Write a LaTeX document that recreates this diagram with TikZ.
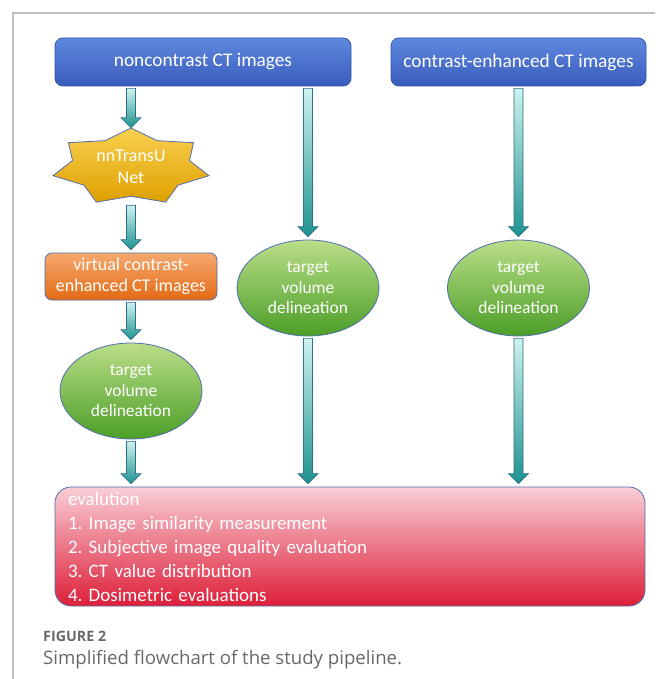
\documentclass[tikz,border=0pt]{standalone}
\usepackage{fontspec}
\setmainfont{Carlito}
\newfontfamily\capfont{Open Sans}
\usepackage{xcolor}
\usetikzlibrary{shapes.geometric,calc}

\definecolor{bluetop}{RGB}{96,136,222}
\definecolor{bluebot}{RGB}{56,92,188}
\definecolor{blueedge}{RGB}{52,86,170}
\definecolor{shapeedge}{RGB}{80,110,175}
\definecolor{goldtop}{RGB}{249,208,80}
\definecolor{goldbot}{RGB}{222,160,0}
\definecolor{orangetop}{RGB}{246,168,110}
\definecolor{orangebot}{RGB}{226,106,20}
\definecolor{greentop}{RGB}{186,222,136}
\definecolor{greenbot}{RGB}{76,158,40}
\definecolor{redtop}{RGB}{249,206,214}
\definecolor{redbot}{RGB}{221,30,56}
\definecolor{arrtop}{RGB}{205,242,238}
\definecolor{arrmid}{RGB}{48,186,172}
\definecolor{arrbot}{RGB}{30,146,142}
\definecolor{arredge}{RGB}{44,110,140}
\definecolor{framegray}{RGB}{190,190,190}
\definecolor{capgray}{RGB}{104,104,108}

\begin{document}
\frenchspacing
\begin{tikzpicture}[x=1pt, y=1pt,
    inputbox/.style={rectangle, rounded corners=8pt, draw=blueedge, line width=0.8pt,
      top color=bluetop, bottom color=bluebot, text=white, inner sep=0pt,
      minimum height=48pt, font=\fontsize{19.3}{22}\selectfont},
    vcebox/.style={rectangle, rounded corners=7pt, draw=shapeedge, line width=0.8pt,
      top color=orangetop, bottom color=orangebot, text=white, inner sep=0pt,
      minimum width=172pt, minimum height=47pt, align=center,
      font=\fontsize{18}{21}\selectfont},
    tvdnode/.style={ellipse, draw=shapeedge, line width=0.8pt,
      top color=greentop, bottom color=greenbot, text=white, inner sep=0pt,
      minimum width=142pt, minimum height=96pt, align=center,
      font=\fontsize{17.5}{20.5}\selectfont},
    starshape/.style={draw=shapeedge, line width=0.8pt, top color=goldtop, bottom color=goldbot},
    evalbox/.style={rectangle, rounded corners=16pt, draw=shapeedge, line width=0.8pt,
      top color=redtop, bottom color=redbot, text=white, inner sep=0pt,
      minimum width=590pt, minimum height=119pt, text width=564pt, align=left,
      font=\fontsize{19}{24}\selectfont},
    flowarrow/.style={draw=arredge, line width=0.6pt, top color=arrtop, middle color=arrmid, bottom color=arrbot}]

    \useasboundingbox (0,0) rectangle (655,-679);

    % Frame
    \draw[framegray, line width=1.5pt] (655,-13) -- (13,-13) -- (13,-679);

    % Input images
    \node[inputbox, minimum width=296pt] (noncon) at (203,-62) {noncontrast CT images};
    \node[inputbox, minimum width=255pt] (contrast) at (518.5,-62) {contrast-enhanced CT images};

    % Network (7-point star)
    \coordinate (unetc) at (131,-167);
    \path[starshape, shift={(unetc)}] (90:80pt and 39pt)
      \foreach \i in {1,...,13} { -- ({90+\i*180/7}:{(1-0.25*mod(\i,2))*80pt} and {(1-0.25*mod(\i,2))*39pt}) } -- cycle;
    \node[text=white, align=center, inner sep=0pt, minimum height=72pt,
      font=\fontsize{18}{22}\selectfont] (unet) at (unetc) {nnTransU\\Net};

    % Virtual contrast-enhanced images
    \node[vcebox] (vce) at (131,-276.5) {virtual contrast-\\enhanced CT images};

    % Target volume delineation
    \node[tvdnode] (tvd1) at (131,-391) {target\\volume\\delineation};
    \node[tvdnode] (tvd2) at (308,-288) {target\\volume\\delineation};
    \node[tvdnode] (tvd3) at (518.5,-288) {target\\volume\\delineation};

    % Evaluation
    \node[evalbox] (eval) at (350,-546.5) {evalution\\
      1. Image similarity measurement\\
      2. Subjective image quality evaluation\\
      3. CT value distribution\\
      4. Dosimetric evaluations};

    % Block arrows
    \foreach \s/\t in {noncon.south -| unet.north/unet.north,
                       unet.south/vce.north,
                       vce.south/tvd1.north,
                       tvd1.south/eval.north -| tvd1.south,
                       noncon.south -| tvd2.north/tvd2.north,
                       tvd2.south/eval.north -| tvd2.south,
                       contrast.south/tvd3.north,
                       tvd3.south/eval.north -| tvd3.south}
      \path[flowarrow] let \p1=(\s), \p2=(\t) in
        (\x2-4.5pt,\y1-2pt) -- (\x2+4.5pt,\y1-2pt) -- (\x2+4.5pt,\y2+13pt)
        -- (\x2+10pt,\y2+13pt) -- (\x2,\y2+3pt) -- (\x2-10pt,\y2+13pt)
        -- (\x2-4.5pt,\y2+13pt) -- cycle;

    % Caption
    \node[anchor=west, inner sep=0pt, text=capgray, font=\capfont\bfseries\fontsize{14.3}{16}\selectfont] (fig) at (43,-636) {FIGURE 2};
    \node[anchor=west, inner sep=0pt, text=capgray, font=\capfont\fontsize{18.6}{21}\selectfont] (cap) at (43,-660) {Simplified flowchart of the study pipeline.};
\end{tikzpicture}
\end{document}
